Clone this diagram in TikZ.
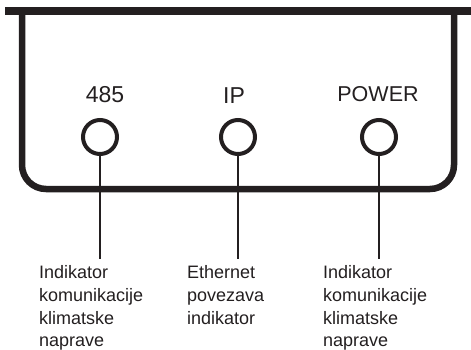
\documentclass[tikz,border=0pt]{standalone}
\usepackage{fontspec}
\setmainfont{Liberation Sans}
\usetikzlibrary{positioning}
\definecolor{ink}{HTML}{231F20}

\begin{document}
\begin{tikzpicture}[x=1pt,y=-1pt,
    led/.style={circle, draw=ink, line width=4pt, minimum size=34pt, inner sep=0pt},
    ledname/.style={anchor=base, text=ink, inner sep=0pt, font=\fontsize{23}{27}\selectfont},
    caption/.style={anchor=north west, align=left, text=ink, inner sep=0pt, font=\fontsize{18}{22.7}\selectfont},
    lead/.style={draw=ink, line width=2.8pt}]
    \useasboundingbox (0,0) rectangle (471,350);
    % kucište
    \draw[ink, line width=7.5pt] (5,11) -- (471,11);
    \draw[ink, line width=6.5pt, rounded corners=24pt] (22,11) -- (22,189) -- (454,189) -- (454,11);
    % indikatori
    \node[led] (l485) at (100,137) {};
    \node[led] (lip) at (238,137) {};
    \node[led] (lpow) at (379,137) {};
    \node[ledname] (t485) at (105,103) {485};
    \node[ledname] (tip) at (234,104) {IP};
    \node[ledname, font=\fontsize{21.5}{25}\selectfont] (tpow) at (378,102) {POWER};
    % linije
    \coordinate (e485) at (100,259);
    \coordinate (eip) at (238,259);
    \coordinate (epow) at (379,259);
    \draw[lead] (l485.south) -- (e485);
    \draw[lead] (lip.south) -- (eip);
    \draw[lead] (lpow.south) -- (epow);
    % opisi
    \node[caption] (c485) at (39,265.5) {Indikator\\komunikacije\\klimatske\\naprave};
    \node[caption] (cip) at (187,265.5) {Ethernet\\povezava\\indikator};
    \node[caption] (cpow) at (323,265.5) {Indikator\\komunikacije\\klimatske\\naprave};
\end{tikzpicture}
\end{document}
